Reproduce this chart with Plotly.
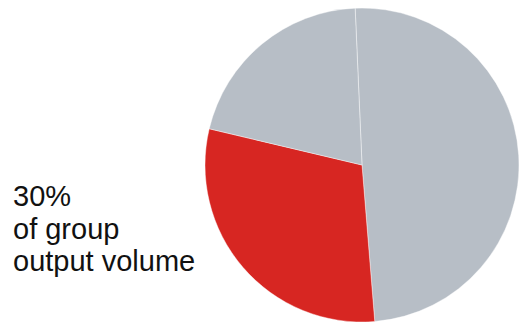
import plotly.graph_objects as go

labels = ["Other (large)", "Group output", "Other (small)"]
values = [49.4, 30.0, 20.6]
colors = ["#b7bec6", "#d72622", "#b7bec6"]
caption_lines = ["30%", "of group", "output volume"]

fig = go.Figure()
fig.add_trace(go.Pie(
    labels=labels,
    values=values,
    sort=False,
    direction="clockwise",
    rotation=-2.5,
    marker=dict(colors=colors, line=dict(color="rgba(255,255,255,0.7)", width=0.6)),
    textinfo="none",
    hoverinfo="label+percent",
    showlegend=False,
    domain=dict(x=[0.395, 1.0], y=[0.0, 1.0]),
))

W, H = 519, 322
line_y = [193.0, 226.3, 259.6]
for txt, py in zip(caption_lines, line_y):
    fig.add_annotation(
        text=txt, x=11 / W, y=1 - py / H, xref="paper", yref="paper",
        xanchor="left", yanchor="middle", showarrow=False,
        font=dict(family="Liberation Sans, Arial, sans-serif", size=29, color="#111111"),
    )

fig.update_layout(
    width=W, height=H,
    margin=dict(l=0, r=0, t=8, b=0),
    paper_bgcolor="white", plot_bgcolor="white",
)

fig.write_html(
    "out.html",
    config={"displayModeBar": False},
    post_script="document.body.style.margin='0px';document.body.style.overflow='hidden';",
)
